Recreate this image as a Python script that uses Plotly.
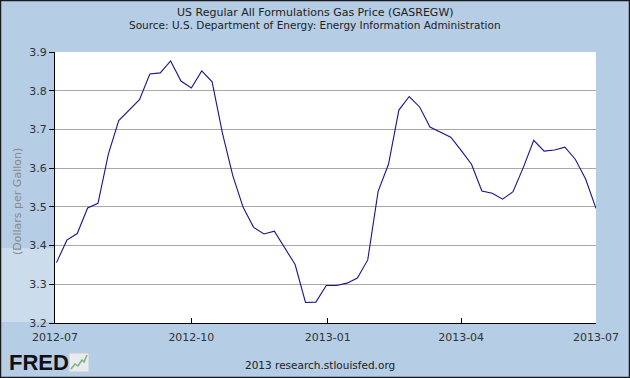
import plotly.graph_objects as go

dates = ["2012-07-02","2012-07-09","2012-07-16","2012-07-23","2012-07-30",
         "2012-08-06","2012-08-13","2012-08-20","2012-08-27",
         "2012-09-03","2012-09-10","2012-09-17","2012-09-24",
         "2012-10-01","2012-10-08","2012-10-15","2012-10-22","2012-10-29",
         "2012-11-05","2012-11-12","2012-11-19","2012-11-26",
         "2012-12-03","2012-12-10","2012-12-17","2012-12-24","2012-12-31",
         "2013-01-07","2013-01-14","2013-01-21","2013-01-28",
         "2013-02-04","2013-02-11","2013-02-18","2013-02-25",
         "2013-03-04","2013-03-11","2013-03-18","2013-03-25",
         "2013-04-01","2013-04-08","2013-04-15","2013-04-22","2013-04-29",
         "2013-05-06","2013-05-13","2013-05-20","2013-05-27",
         "2013-06-03","2013-06-10","2013-06-17","2013-06-24","2013-07-01"]
prices = [3.356, 3.414, 3.431, 3.497, 3.509,
          3.636, 3.723, 3.751, 3.777,
          3.843, 3.846, 3.877, 3.825,
          3.807, 3.851, 3.823, 3.690, 3.580,
          3.498, 3.447, 3.430, 3.437,
          3.394, 3.351, 3.253, 3.254, 3.297,
          3.297, 3.303, 3.316, 3.363,
          3.540, 3.610, 3.750, 3.785,
          3.758, 3.706, 3.694, 3.680,
          3.646, 3.610, 3.541, 3.535, 3.520,
          3.539, 3.602, 3.672, 3.644,
          3.647, 3.654, 3.623, 3.572, 3.496]

x_ticks = ["2012-07-01", "2012-10-01", "2013-01-01", "2013-04-01", "2013-07-01"]
x_tick_labels = ["2012-07", "2012-10", "2013-01", "2013-04", "2013-07"]
y_ticks = [3.2, 3.3, 3.4, 3.5, 3.6, 3.7, 3.8, 3.9]
y_tick_labels = ["3.2", "3.3", "3.4", "3.5", "3.6", "3.7", "3.8", "3.9"]

title1 = "US Regular All Formulations Gas Price (GASREGW)"
title2 = "Source: U.S. Department of Energy: Energy Information Administration"
y_title = "(Dollars per Gallon)"
footer = "2013 research.stlouisfed.org"

W, H = 630, 378
L, R, T, B = 55, 596, 52, 323
def px(x):
    return (x - L) / (R - L)
def py(y):
    return (B - y) / (B - T)

BG = "#b5cde5"
FONT = "DejaVu Sans"

fig = go.Figure()
fig.add_trace(go.Scatter(x=dates, y=prices, mode="lines",
                         line=dict(color="#16168a", width=1.1),
                         hoverinfo="skip", showlegend=False))

fig.update_layout(
    width=W, height=H,
    margin=dict(l=L, r=W - R, t=T, b=H - B, pad=0),
    paper_bgcolor=BG, plot_bgcolor="white",
    font=dict(family=FONT, size=11, color="#333333"),
    showlegend=False,
    xaxis=dict(range=["2012-07-01", "2013-07-01"], tickmode="array",
               tickvals=x_ticks, ticktext=x_tick_labels,
               ticks="inside", ticklen=5, tickcolor="black", tickwidth=1,
               ticklabelstandoff=4,
               showgrid=False, zeroline=False,
               showline=True, linecolor="black", linewidth=1.2,
               tickfont=dict(family=FONT, size=11, color="#333333"),
               fixedrange=True),
    yaxis=dict(range=[3.2, 3.9], tickmode="array",
               tickvals=y_ticks, ticktext=y_tick_labels,
               ticks="outside", ticklen=5, tickcolor="black", tickwidth=1,
               showgrid=True, gridcolor="#a8a8a8", gridwidth=1,
               zeroline=False, showline=True, linecolor="black", linewidth=1.2,
               tickfont=dict(family=FONT, size=11, color="#333333"),
               fixedrange=True),
)

ann = []
ann.append(dict(text=title1, x=px(315), y=py(12), xref="paper", yref="paper",
                showarrow=False, xanchor="center", yanchor="middle",
                font=dict(family=FONT, size=11, color="#222222")))
ann.append(dict(text=title2, x=px(315), y=py(25), xref="paper", yref="paper",
                showarrow=False, xanchor="center", yanchor="middle",
                font=dict(family=FONT, size=10.5, color="#222222")))
ann.append(dict(text=y_title, x=px(17), y=py(202), xref="paper", yref="paper",
                showarrow=False, xanchor="center", yanchor="middle", textangle=-90,
                font=dict(family=FONT, size=11, color="#8a8a8a")))
ann.append(dict(text=footer, x=px(320), y=py(365), xref="paper", yref="paper",
                showarrow=False, xanchor="center", yanchor="middle",
                font=dict(family=FONT, size=10.5, color="#222222")))
ann.append(dict(text="<b>FRED</b>", x=px(7), y=py(362), xref="paper", yref="paper",
                showarrow=False, xanchor="left", yanchor="middle",
                font=dict(family="Liberation Sans", size=22, color="#111111")))
fig.update_layout(annotations=ann)

shapes = []
# watermark band at left
shapes.append(dict(type="rect", xref="paper", yref="paper",
                   x0=px(0), x1=px(L - 1), y0=py(322), y1=py(248),
                   fillcolor="rgba(255,255,255,0.3)", line=dict(width=0), layer="below"))
# logo icon box
shapes.append(dict(type="rect", xref="paper", yref="paper",
                   x0=px(69), x1=px(89), y0=py(372), y1=py(353),
                   fillcolor="#e8ecef", line=dict(color="#c8ccd0", width=1)))
shapes.append(dict(type="path", xref="paper", yref="paper",
                   path=f"M {px(71)},{py(369)} L {px(75)},{py(364)} L {px(78)},{py(366)} L {px(82)},{py(360)} L {px(84)},{py(362)} L {px(87)},{py(355)}",
                   line=dict(color="#7fae7f", width=1.5)))
# outer border
shapes.append(dict(type="rect", xref="paper", yref="paper",
                   x0=px(0.5), x1=px(W - 0.5), y0=py(H - 0.5), y1=py(0.5),
                   line=dict(color="#1a1a1a", width=1.5), fillcolor="rgba(0,0,0,0)"))
fig.update_layout(shapes=shapes)

fig.write_html("out.html", config={"displayModeBar": False},
               post_script="document.body.style.margin='0';document.body.style.padding='0';")
